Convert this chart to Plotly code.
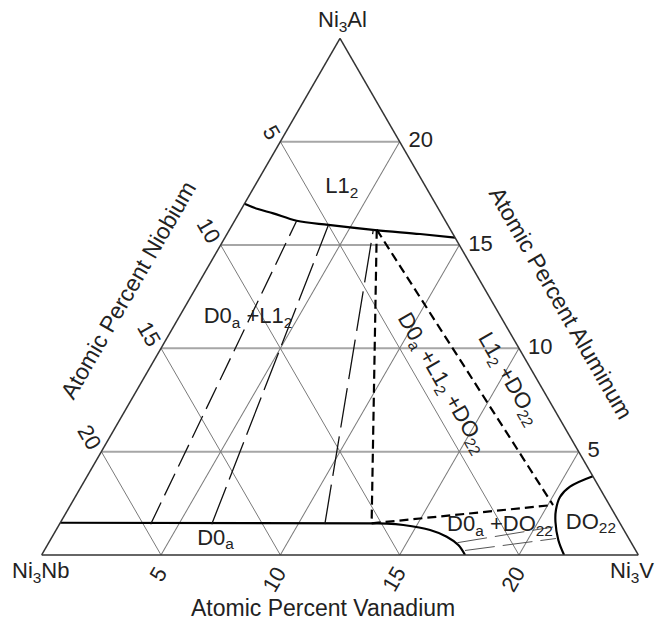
import plotly.graph_objects as go

# ---------------- data (atomic percent; Al + Nb + V = 25, Ni = 75) ----------------
TOTAL = 25

tick_values = [5, 10, 15, 20]
# Reference prints Nb on the left edge and Al on the right edge.
# On those edges they are the complements of plotly's a / c tick positions.
nb_tick_labels = ["20", "15", "10", "5"]   # left edge (positions a = 5..20)
al_tick_labels = ["20", "15", "10", "5"]   # right edge (positions c = 5..20)
v_tick_labels = ["5", "10", "15", "20"]    # bottom edge (V = 5..20)

# L1_2 phase boundary (solid)
l12_al = [17.0, 16.74, 16.53, 16.18, 15.97, 15.72, 15.53, 15.36]
l12_nb = [8.0, 7.57, 7.03, 6.23, 5.0, 3.16, 1.38, 0.0]
l12_v = [0.0, 0.69, 1.44, 2.60, 4.03, 6.12, 8.09, 9.64]

# D0_a phase boundary (solid)
d0a_al = [1.56, 1.53, 1.52, 1.45, 1.21, 0.885, 0.484, 0.0]
d0a_nb = [23.44, 10.41, 9.78, 9.12, 8.12, 7.585, 7.30, 7.26]
d0a_v = [0.0, 13.06, 13.70, 14.43, 15.67, 16.53, 17.216, 17.74]

# DO_22 phase boundary (solid)
do22_al = [3.81, 3.305, 2.806, 2.177, 1.597, 0.726, 0.0]
do22_nb = [0.0, 1.21, 1.878, 2.363, 2.673, 2.989, 3.11]
do22_v = [21.19, 20.485, 20.316, 20.46, 20.73, 21.285, 21.89]

# three-phase triangle corners: L1_2 apex, D0_a corner, DO_22 corner
tri_al = [15.74, 1.53, 2.42]
tri_nb = [3.09, 10.41, 2.365]
tri_v = [6.17, 13.06, 20.215]

# tie lines D0_a + L1_2 (start on D0_a side, end on L1_2 side)
tie_l12_al = [[1.49, 16.18], [1.49, 15.97], [1.49, 15.73]]
tie_l12_nb = [[19.69, 6.23], [17.13, 5.0], [12.39, 3.24]]
tie_l12_v = [[3.82, 2.60], [6.38, 4.03], [11.12, 6.03]]

# tie lines D0_a + DO_22
tie_do22_al = [[0.595, 1.355], [0.218, 0.798]]
tie_do22_nb = [[7.285, 2.895], [7.152, 3.052]]
tie_do22_v = [[17.12, 20.75], [17.63, 21.15]]

# phase labels (horizontal)
lab_text = ["L1<sub>2</sub>", "D0<sub>a</sub> +L1<sub>2</sub>", "D0<sub>a</sub>",
            "D0<sub>a</sub> +DO<sub>22</sub>", "DO<sub>22</sub>"]
lab_al = [17.76, 11.47, 0.77, 1.43, 1.53]
lab_nb = [3.54, 10.62, 17.33, 5.08, 1.22]
lab_v = [3.70, 2.91, 6.90, 18.49, 22.25]

# phase labels (rotated along the tie-triangle)
rot_text = ["D0<sub>a</sub> +L1<sub>2</sub> +DO<sub>22</sub>", "L1<sub>2</sub> +DO<sub>22</sub>"]
rot_al = [8.32, 8.50]
rot_nb = [4.08, 1.20]
rot_v = [12.60, 15.30]

corner_titles = ["Ni<sub>3</sub>Al", "Ni<sub>3</sub>Nb", "Ni<sub>3</sub>V"]
corner_al = [25, 0, 0]
corner_nb = [0, 25, 0]
corner_v = [0, 0, 25]
side_titles = ["Atomic Percent Niobium", "Atomic Percent Aluminum", "Atomic Percent Vanadium"]

# ---------------- layout constants ----------------
W, H = 664, 622
DOM_X = [41.7 / W, 638.3 / W]
DOM_Y = [67.0 / H, 583.7 / H]
FONT = "Liberation Sans, Arial, Helvetica, sans-serif"
INK = "#222222"


def comp_to_paper(al, nb, v):
    s = al + nb + v
    al, v = al * TOTAL / s, v * TOTAL / s
    x = DOM_X[0] + (v + al / 2) / TOTAL * (DOM_X[1] - DOM_X[0])
    y = DOM_Y[0] + al / TOTAL * (DOM_Y[1] - DOM_Y[0])
    return x, y


fig = go.Figure()


def line(a, b, c, width, dash="solid", color="black", shape="linear"):
    fig.add_trace(go.Scatterternary(
        a=a, b=b, c=c, mode="lines",
        line=dict(color=color, width=width, dash=dash, shape=shape),
        hoverinfo="skip", showlegend=False))


# solid phase boundaries
line(l12_al, l12_nb, l12_v, 2.2, shape="spline")
line(d0a_al, d0a_nb, d0a_v, 2.2, shape="spline")
line(do22_al, do22_nb, do22_v, 2.2, shape="spline")

# three-phase triangle, heavy dashed (each leg separately)
for i, j in [(0, 1), (0, 2), (1, 2)]:
    line([tri_al[i], tri_al[j]], [tri_nb[i], tri_nb[j]], [tri_v[i], tri_v[j]],
         2.2, dash="9px,5px")

# tie lines
tie_dash = ["24px,8px", "40px,8px", "40px,9px"]
for k in range(len(tie_l12_al)):
    line(tie_l12_al[k], tie_l12_nb[k], tie_l12_v[k], 1.3, dash=tie_dash[k], color="#111111")
for k in range(len(tie_do22_al)):
    line(tie_do22_al[k], tie_do22_nb[k], tie_do22_v[k], 1.0, dash="30px,8px", color="#555555")

# horizontal phase labels
fig.add_trace(go.Scatterternary(
    a=lab_al, b=lab_nb, c=lab_v, mode="text", text=lab_text,
    textposition="middle center",
    textfont=dict(family=FONT, size=22, color=INK),
    hoverinfo="skip", showlegend=False))

annotations = []
# rotated phase labels
for t, a, b, c in zip(rot_text, rot_al, rot_nb, rot_v):
    x, y = comp_to_paper(a, b, c)
    annotations.append(dict(x=x, y=y, xref="paper", yref="paper", text=t,
                            showarrow=False, textangle=60,
                            xanchor="center", yanchor="middle",
                            font=dict(family=FONT, size=22, color=INK)))

# bottom-edge (vanadium) tick labels, rotated
for t, v in zip(v_tick_labels, tick_values):
    x, y = comp_to_paper(0, TOTAL - v, v)
    annotations.append(dict(x=x, y=y, xref="paper", yref="paper", text=t,
                            showarrow=False, textangle=-60,
                            xanchor="right", yanchor="top", xshift=13.5, yshift=-5,
                            font=dict(family=FONT, size=22, color=INK)))

# corner labels
corner_shift = [(2, 17), (-1, -17), (-6, -17)]
for t, a, b, c, (dx, dy) in zip(corner_titles, corner_al, corner_nb, corner_v, corner_shift):
    x, y = comp_to_paper(a, b, c)
    annotations.append(dict(x=x, y=y, xref="paper", yref="paper", text=t,
                            showarrow=False, xanchor="center", yanchor="middle",
                            xshift=dx, yshift=dy,
                            font=dict(family=FONT, size=22, color=INK)))

# side titles
side_pos = [(128.3, 290.0, -60), (560.8, 303.3, 60), (322.5, 607.5, 0)]
for t, (px, py, ang) in zip(side_titles, side_pos):
    annotations.append(dict(x=px / W, y=1 - py / H, xref="paper", yref="paper",
                            text=t, showarrow=False, textangle=ang, borderpad=0,
                            xanchor="center", yanchor="middle",
                            font=dict(family=FONT, size=23, color=INK)))

axis_common = dict(
    tickmode="array", tickvals=tick_values, ticks="", showgrid=True,
    showline=True, linecolor="#333333", linewidth=1.5, min=0,
    tickfont=dict(family=FONT, size=22, color=INK), title=dict(text=""),
)

fig.update_layout(
    width=W, height=H,
    margin=dict(l=0, r=0, t=0, b=0),
    paper_bgcolor="white",
    font=dict(family=FONT, color=INK),
    showlegend=False,
    annotations=annotations,
    ternary=dict(
        sum=TOTAL,
        bgcolor="white",
        domain=dict(x=DOM_X, y=DOM_Y),
        aaxis=dict(axis_common, ticktext=nb_tick_labels, tickangle=60,
                   gridcolor="#a6a6a6", gridwidth=1.6),
        baxis=dict(axis_common, showticklabels=False,
                   gridcolor="#7a7a7a", gridwidth=1.0),
        caxis=dict(axis_common, ticktext=["\u00a0" + t for t in al_tick_labels], tickangle=0,
                   gridcolor="#7a7a7a", gridwidth=1.0),
    ),
)

fig.write_html("out.html", config={"displayModeBar": False},
               post_script="document.body.style.margin='0px';")
